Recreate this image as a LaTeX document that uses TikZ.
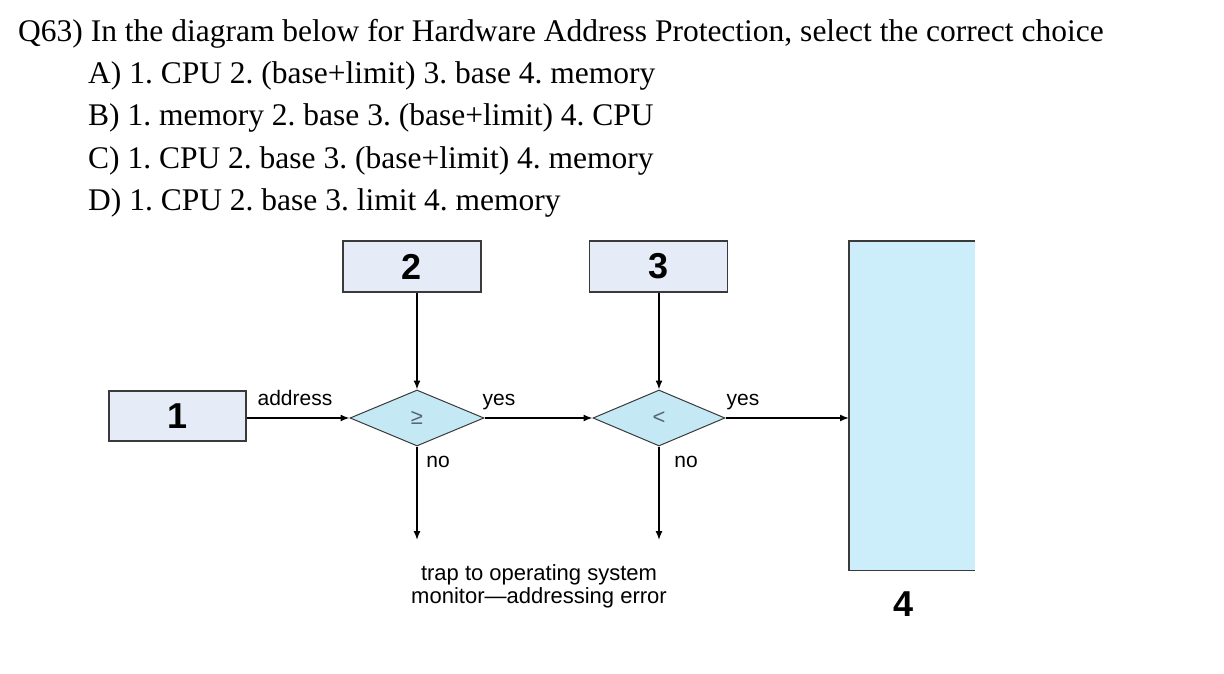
\documentclass[tikz,border=0pt]{standalone}
\usepackage{fontspec}
\setmainfont{Liberation Serif}
\setsansfont{Liberation Sans}
\usetikzlibrary{shapes.geometric,arrows.meta}
\definecolor{boxfill}{HTML}{E5EBF7}
\definecolor{diafill}{HTML}{C5E8F5}
\definecolor{memfill}{HTML}{CCEEFA}
\definecolor{edge}{HTML}{3A3A3A}
\definecolor{symcol}{HTML}{56657A}
\frenchspacing
\begin{document}
\begin{tikzpicture}[x=1pt,y=-1pt,
  qtext/.style={anchor=base west,inner sep=0pt,font=\fontsize{31.5}{36}\selectfont},
  regbox/.style={draw=edge,line width=1.3pt,fill=boxfill,minimum width=138pt,minimum height=51pt,inner sep=0pt,font=\sffamily\bfseries\fontsize{36}{40}\selectfont},
  testdia/.style={diamond,draw=edge,line width=1pt,fill=diafill,minimum width=134pt,minimum height=56pt,inner sep=0pt,font=\sffamily\fontsize{22}{24}\selectfont\color{symcol}},
  lbl/.style={anchor=base,inner sep=0pt,font=\sffamily\fontsize{21}{24}\selectfont},
  flow/.style={line width=1.4pt,-{Latex[length=9pt,width=7pt]}},
  plain/.style={line width=1.3pt}]
\useasboundingbox (0,0) rectangle (1224,674);
% question
\node[qtext] (q) at (18,42) {Q63) In the diagram below for Hardware Address Protection, select the correct choice};
\node[qtext] (oa) at (88,84) {A) 1. CPU 2. (base+limit) 3. base 4. memory};
\node[qtext] (ob) at (88,126) {B) 1. memory 2. base 3. (base+limit) 4. CPU};
\node[qtext] (oc) at (88,168) {C) 1. CPU 2. base 3. (base+limit) 4. memory};
\node[qtext] (od) at (88,210) {D) 1. CPU 2. base 3. limit 4. memory};
% boxes
\node[regbox] (b2) at (412,266.5) {2};
\node[regbox] (b3) at (658.5,266.5) {3};
\node[regbox,minimum width=137pt,minimum height=50pt] (b1) at (177.5,416) {1};
% diamonds
\node[testdia] (d1) at (417,418) {≥};
\node[testdia,minimum width=132pt] (d2) at (659,418) {<};
% memory
\node[fill=memfill,minimum width=126pt,minimum height=329pt,inner sep=0pt,anchor=north west] (mem) at (849,241) {};
\draw[line width=1.3pt,edge] (mem.north east) -- (mem.north west) -- (mem.south west) -- (mem.south east);
\node[anchor=base,inner sep=0pt,font=\sffamily\bfseries\fontsize{36}{40}\selectfont] (n4) at (904,616) {4};
% connectors
\draw[flow] (b2.south -| d1.north) -- (d1.north);
\draw[flow] (b3.south -| d2.north) -- (d2.north);
\draw[flow] (b1.east |- d1.west) -- (d1.west);
\draw[flow] (d1.east) -- (d2.west);
\draw[flow] (d2.east) -- (d2.east -| mem.west);
\coordinate (e1) at (417,540);
\coordinate (e2) at (659,540);
\draw[flow] (d1.south) -- (e1);
\draw[flow] (d2.south) -- (e2);
% labels
\node[lbl] (la) at (295,405) {address};
\node[lbl] (ly1) at (499,405) {yes};
\node[lbl] (ly2) at (743,405) {yes};
\node[lbl] (ln1) at (438,467) {no};
\node[lbl] (ln2) at (686,467) {no};
\node[lbl,font=\sffamily\fontsize{22}{24}\selectfont] (t1) at (539,580) {trap to operating system};
\node[lbl,font=\sffamily\fontsize{22}{24}\selectfont] (t2) at (539,603) {monitor---addressing error};
\end{tikzpicture}
\end{document}
